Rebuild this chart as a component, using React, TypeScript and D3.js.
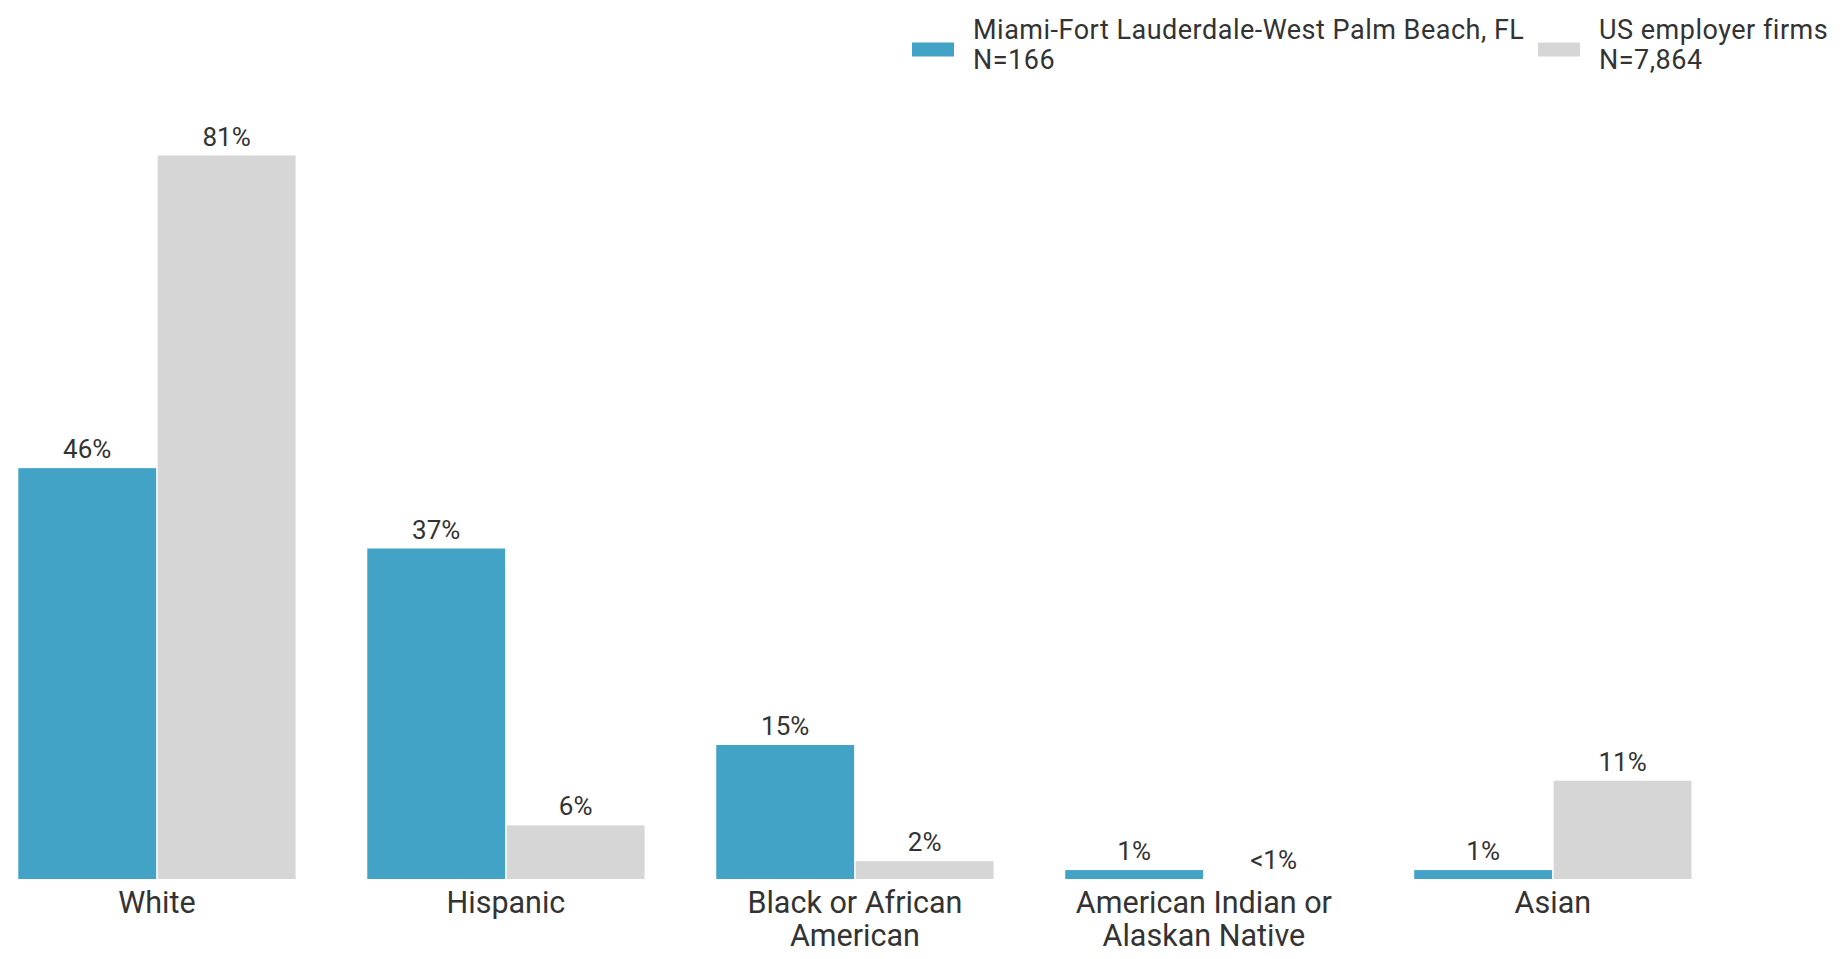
import React from 'react';
import * as d3 from 'd3';

const categories = ['White', 'Hispanic', 'Black or African American', 'American Indian or Alaskan Native', 'Asian'];
const categoryLines = [['White'], ['Hispanic'], ['Black or African', 'American'], ['American Indian or', 'Alaskan Native'], ['Asian']];
const seriesKeys = ['miami', 'us'];
const seriesNames = ['Miami-Fort Lauderdale-West Palm Beach, FL', 'US employer firms'];
const seriesN = ['N=166', 'N=7,864'];
const miamiValues = [46, 37, 15, 1, 1];
const usValues = [81, 6, 2, 0, 11];
const miamiLabels = ['46%', '37%', '15%', '1%', '1%'];
const usLabels = ['81%', '6%', '2%', '<1%', '11%'];

const COLORS = ['#42a3c7', '#d6d6d6'];
const TEXT = '#333333';
const FONT = 'Roboto, "Noto Sans", sans-serif';

export default function App() {
  const W = 1845;
  const H = 959;
  const baseY = 879;
  const x0 = d3.scaleBand<string>().domain(categories).range([18.3, 1691.5]).paddingInner(0.2054).paddingOuter(0);
  const x1 = d3.scaleBand<string>().domain(seriesKeys).range([0, x0.bandwidth()]).paddingInner(0.011);
  const y = d3.scaleLinear().domain([0, 81]).range([baseY, 155.5]);
  const values = [miamiValues, usValues];
  const labels = [miamiLabels, usLabels];

  const legendX = [912, 1538];

  return (
    <svg width={W} height={H} style={{ position: 'absolute', left: 0, top: 0, background: '#fff' }} fontFamily={FONT}>
      {categories.map((c, i) => (
        <g key={c} transform={`translate(${x0(c)},0)`}>
          {seriesKeys.map((k, s) => {
            const v = values[s][i];
            const bx = x1(k) as number;
            return (
              <g key={k}>
                <rect x={bx} y={y(v)} width={x1.bandwidth()} height={baseY - y(v)} fill={COLORS[s]} />
                <text x={bx + x1.bandwidth() / 2} y={y(v) - 10} textAnchor="middle" fontSize={26} fill={TEXT}>
                  {labels[s][i]}
                </text>
              </g>
            );
          })}
          {categoryLines[i].map((ln, j) => (
            <text key={j} x={x0.bandwidth() / 2} y={913 + j * 33} textAnchor="middle" fontSize={30.5} fill={TEXT}>
              {ln}
            </text>
          ))}
        </g>
      ))}
      {seriesNames.map((n, s) => (
        <g key={n}>
          <rect x={legendX[s]} y={42.5} width={42} height={14} fill={COLORS[s]} />
          <text x={legendX[s] + 61} y={39} fontSize={27} letterSpacing={0.5} fill={TEXT}>{n}</text>
          <text x={legendX[s] + 61} y={69} fontSize={27} letterSpacing={0.5} fill={TEXT}>{seriesN[s]}</text>
        </g>
      ))}
    </svg>
  );
}
